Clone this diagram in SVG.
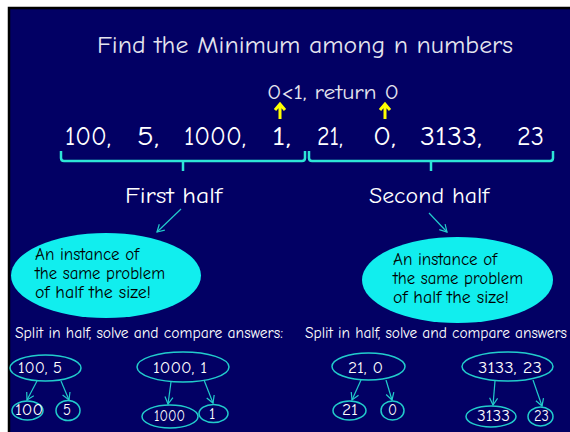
<svg xmlns="http://www.w3.org/2000/svg" width="570" height="432" viewBox="0 0 570 432">
<style>
.t{font-family:"Comic Neue","DejaVu Sans","Noto Sans",sans-serif;}
.title{fill:#e4e4ee;font-size:25px;}
.num{fill:#ffffff;font-size:26px;}
.lbl{fill:#ffffff;font-size:22px;}
.blk{fill:#000000;font-size:17px;}
.sm{fill:#ffffff;font-size:16px;}
.brace{fill:none;stroke:#2ee6d6;stroke-width:2.5;}
.ar{fill:none;stroke:#22cccc;stroke-width:1.2;marker-end:url(#ah);}
.ov{fill:none;stroke:#22cccc;stroke-width:1.5;}
.big{fill:#11eeee;}
.ya{fill:none;stroke:#ffff00;stroke-width:3;}
</style>
<defs>
<marker id="ah" markerWidth="10" markerHeight="10" refX="8" refY="5" orient="auto" markerUnits="userSpaceOnUse">
<path d="M1,1 L8,5 L1,9" fill="none" stroke="#22cccc" stroke-width="1.2"/>
</marker>
</defs>
<rect x="0" y="0" width="570" height="432" fill="#ffffff"/>
<rect x="9" y="8" width="561" height="424" fill="#020064"/>
<path d="M9,432 L9,8 L570,8" fill="none" stroke="#000000" stroke-width="2.5"/>

<text class="t title" x="97" y="53" textLength="416" lengthAdjust="spacingAndGlyphs">Find the Minimum among n numbers</text>

<g id="note">
<text class="t title" x="267" y="99" style="font-size:21px" textLength="132" lengthAdjust="spacingAndGlyphs">0&lt;1, return 0</text>
<path class="ya" d="M280,119 L280,105 M275,110 L280,104 L285,110"/>
<path class="ya" d="M385,119 L385,105 M380,110 L385,104 L390,110"/>
</g>

<g id="numbers">
<text class="t num" x="65" y="145" textLength="46" lengthAdjust="spacingAndGlyphs">100,</text>
<text class="t num" x="137" y="145" textLength="22" lengthAdjust="spacingAndGlyphs">5,</text>
<text class="t num" x="184" y="145" textLength="62" lengthAdjust="spacingAndGlyphs">1000,</text>
<text class="t num" x="272" y="145" textLength="19" lengthAdjust="spacingAndGlyphs">1,</text>
<text class="t num" x="317" y="145" textLength="26" lengthAdjust="spacingAndGlyphs">21,</text>
<text class="t num" x="373" y="145" textLength="23" lengthAdjust="spacingAndGlyphs">0,</text>
<text class="t num" x="420" y="145" textLength="62" lengthAdjust="spacingAndGlyphs">3133,</text>
<text class="t num" x="517" y="145" textLength="27" lengthAdjust="spacingAndGlyphs">23</text>
</g>

<g id="braces">
<path class="brace" d="M61,151 L61,158 Q61,161 64,161 L302,161 Q305,161 305,158 L305,151 M183,161 L183,171"/>
<path class="brace" d="M309,151 L309,158 Q309,161 312,161 L550,161 Q553,161 553,158 L553,151 M431,161 L431,171"/>
</g>

<g id="first-half">
<text class="t lbl" x="125" y="203" textLength="97" lengthAdjust="spacingAndGlyphs">First half</text>
</g>
<g id="second-half">
<text class="t lbl" x="369" y="203" textLength="120" lengthAdjust="spacingAndGlyphs">Second half</text>
</g>

<g id="connectors">
<line class="ar" x1="181" y1="209" x2="157" y2="232"/>
<line class="ar" x1="429" y1="213" x2="447" y2="232"/>
<line class="ar" x1="37" y1="381" x2="27" y2="400"/>
<line class="ar" x1="61" y1="381" x2="69" y2="400"/>
<line class="ar" x1="171" y1="382" x2="168" y2="404"/>
<line class="ar" x1="204" y1="380" x2="213" y2="403"/>
<line class="ar" x1="361" y1="380" x2="352" y2="400"/>
<line class="ar" x1="386" y1="380" x2="392" y2="400"/>
<line class="ar" x1="495" y1="381" x2="493" y2="405"/>
<line class="ar" x1="533" y1="380" x2="542" y2="406"/>
</g>

<g id="instance-left">
<ellipse class="big" cx="106" cy="275.5" rx="95" ry="42.5"/>
<text class="t blk" x="35" y="260" textLength="104" lengthAdjust="spacingAndGlyphs">An instance of</text>
<text class="t blk" x="35" y="279" textLength="130" lengthAdjust="spacingAndGlyphs">the same problem</text>
<text class="t blk" x="35" y="298" textLength="116" lengthAdjust="spacingAndGlyphs">of half the size!</text>
</g>
<g id="instance-right">
<ellipse class="big" cx="457.5" cy="280" rx="95.5" ry="43"/>
<text class="t blk" x="393" y="265" textLength="104" lengthAdjust="spacingAndGlyphs">An instance of</text>
<text class="t blk" x="393" y="284" textLength="130" lengthAdjust="spacingAndGlyphs">the same problem</text>
<text class="t blk" x="393" y="303" textLength="116" lengthAdjust="spacingAndGlyphs">of half the size!</text>
</g>

<g id="split-left">
<text class="t sm" x="15" y="338" style="font-size:15px" textLength="268" lengthAdjust="spacingAndGlyphs">Split in half, solve and compare answers:</text>
</g>
<g id="split-right">
<text class="t sm" x="305" y="338" style="font-size:15px" textLength="262" lengthAdjust="spacingAndGlyphs">Split in half, solve and compare answers</text>
</g>

<g id="n-100-5"><ellipse class="ov" cx="45.5" cy="368" rx="35.5" ry="13"/><text class="t sm" x="18" y="373" textLength="44" lengthAdjust="spacingAndGlyphs">100, 5</text></g>
<g id="n-1000-1"><ellipse class="ov" cx="183" cy="367" rx="46" ry="15"/><text class="t sm" x="153" y="373" textLength="54" lengthAdjust="spacingAndGlyphs">1000,  1</text></g>
<g id="n-100"><ellipse class="ov" cx="27.5" cy="410.5" rx="15.5" ry="9.5"/><text class="t sm" x="15" y="415" textLength="28" lengthAdjust="spacingAndGlyphs">100</text></g>
<g id="n-5"><ellipse class="ov" cx="68" cy="410.5" rx="12" ry="10"/><text class="t sm" x="63" y="415" textLength="8" lengthAdjust="spacingAndGlyphs">5</text></g>
<g id="n-1000"><ellipse class="ov" cx="170" cy="416.5" rx="28" ry="11.5"/><text class="t sm" x="154" y="421" textLength="31" lengthAdjust="spacingAndGlyphs">1000</text></g>
<g id="n-1"><ellipse class="ov" cx="213.5" cy="413.5" rx="14.5" ry="9"/><text class="t sm" x="209" y="419">1</text></g>

<g id="n-21-0"><ellipse class="ov" cx="368.5" cy="366.5" rx="36.5" ry="13.5"/><text class="t sm" x="348" y="373" textLength="35" lengthAdjust="spacingAndGlyphs">21,  0</text></g>
<g id="n-3133-23"><ellipse class="ov" cx="507.5" cy="366.5" rx="45.5" ry="14.5"/><text class="t sm" x="478" y="373" textLength="64" lengthAdjust="spacingAndGlyphs">3133,  23</text></g>
<g id="n-21"><ellipse class="ov" cx="349.5" cy="410.5" rx="16.5" ry="9.5"/><text class="t sm" x="342" y="415" textLength="16" lengthAdjust="spacingAndGlyphs">21</text></g>
<g id="n-0"><ellipse class="ov" cx="392.5" cy="410.5" rx="11.5" ry="9.5"/><text class="t sm" x="388" y="415" textLength="9" lengthAdjust="spacingAndGlyphs">0</text></g>
<g id="n-3133"><ellipse class="ov" cx="491" cy="416.5" rx="25" ry="10.5"/><text class="t sm" x="477" y="421" textLength="33" lengthAdjust="spacingAndGlyphs">3133</text></g>
<g id="n-23"><ellipse class="ov" cx="540.5" cy="416.5" rx="12.5" ry="9.5"/><text class="t sm" x="534" y="421" textLength="15" lengthAdjust="spacingAndGlyphs">23</text></g>
</svg>
